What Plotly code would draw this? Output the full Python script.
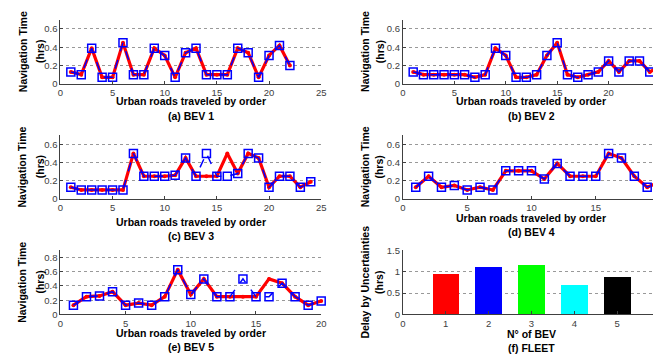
import plotly.graph_objects as go

W, H = 661, 356

# ---------------- data ----------------
bev1_x = list(range(1, 23))
bev1_plan = [0.13, 0.10, 0.39, 0.07, 0.07, 0.45, 0.10, 0.10, 0.39, 0.31, 0.07,
             0.34, 0.39, 0.10, 0.10, 0.10, 0.39, 0.34, 0.07, 0.31, 0.42, 0.20]
bev1_real = [0.13, 0.10, 0.39, 0.07, 0.07, 0.45, 0.10, 0.10, 0.39, 0.31, 0.07,
             0.34, 0.39, 0.10, 0.10, 0.10, 0.39, 0.34, 0.07, 0.31, 0.42, 0.20]

bev2_x = list(range(1, 26))
bev2_plan = [0.13, 0.10, 0.10, 0.10, 0.10, 0.10, 0.07, 0.10, 0.39, 0.31, 0.07, 0.07,
             0.10, 0.31, 0.45, 0.10, 0.07, 0.10, 0.13, 0.25, 0.13, 0.25, 0.25, 0.13, 0.19]
bev2_real = [0.13, 0.10, 0.10, 0.10, 0.10, 0.10, 0.07, 0.10, 0.39, 0.31, 0.07, 0.07,
             0.10, 0.31, 0.45, 0.10, 0.07, 0.10, 0.13, 0.25, 0.13, 0.25, 0.25, 0.13, 0.19]

bev3_x = list(range(1, 25))
bev3_plan = [0.13, 0.10, 0.10, 0.10, 0.10, 0.10, 0.50, 0.25, 0.25, 0.25, 0.26, 0.45,
             0.25, 0.25, 0.25, 0.50, 0.28, 0.50, 0.45, 0.13, 0.25, 0.25, 0.13, 0.19]
bev3_real = [0.13, 0.10, 0.10, 0.10, 0.10, 0.10, 0.50, 0.25, 0.25, 0.25, 0.26, 0.45,
             0.25, 0.50, 0.25, 0.25, 0.28, 0.50, 0.45, 0.13, 0.25, 0.25, 0.13, 0.19]

bev4_x = list(range(1, 21))
bev4_plan = [0.13, 0.25, 0.13, 0.15, 0.10, 0.13, 0.10, 0.31, 0.31, 0.31,
             0.22, 0.39, 0.25, 0.25, 0.25, 0.50, 0.45, 0.25, 0.13, 0.19]
bev4_real = [0.13, 0.25, 0.13, 0.15, 0.10, 0.13, 0.10, 0.31, 0.31, 0.31,
             0.22, 0.39, 0.25, 0.25, 0.25, 0.50, 0.45, 0.25, 0.13, 0.19]

bev5_x = list(range(1, 21))
bev5_plan = [0.13, 0.25, 0.26, 0.32, 0.13, 0.16, 0.13, 0.25, 0.63, 0.28,
             0.50, 0.25, 0.25, 0.25, 0.25, 0.50, 0.44, 0.25, 0.13, 0.19]
bev5_real = [0.13, 0.25, 0.26, 0.32, 0.13, 0.16, 0.13, 0.25, 0.63, 0.28,
             0.50, 0.25, 0.25, 0.50, 0.25, 0.25, 0.44, 0.25, 0.13, 0.19]

fleet_bev = [1, 2, 3, 4, 5]
fleet_delay = [0.94, 1.10, 1.15, 0.69, 0.87]
fleet_colors = ["#ff0000", "#0000ff", "#00ff00", "#00ffff", "#000000"]

x_label = "Urban roads traveled by order"
y_label = "Navigation Time"
f_x_label = "N° of BEV"
f_y_label = "Delay by Uncertainties"
captions = ["(a) BEV 1", "(b) BEV 2", "(c) BEV 3", "(d) BEV 4", "(e) BEV 5", "(f) FLEET"]

# ---------------- layout geometry (pixels) ----------------
def px(x):
    return x / W

def py(y):
    return 1 - y / H

cols = [(50, 314), (396.7, 657)]
rows = [(6, 72), (125, 191), (244, 310)]

fig = go.Figure()

panels = [
    (bev1_x, bev1_plan, bev1_real, 0, 0, [0, 25], [0, 5, 10, 15, 20, 25], [0, 0.7], [0, 0.2, 0.4, 0.6]),
    (bev2_x, bev2_plan, bev2_real, 0, 1, [0, 25], [0, 5, 10, 15, 20, 25], [0, 0.7], [0, 0.2, 0.4, 0.6]),
    (bev3_x, bev3_plan, bev3_real, 1, 0, [0, 25], [0, 5, 10, 15, 20, 25], [0, 0.7], [0, 0.2, 0.4, 0.6]),
    (bev4_x, bev4_plan, bev4_real, 1, 1, [0, 20], [0, 5, 10, 15, 20], [0, 0.7], [0, 0.2, 0.4, 0.6]),
    (bev5_x, bev5_plan, bev5_real, 2, 0, [0, 20], [0, 5, 10, 15, 20], [0, 0.9], [0, 0.2, 0.4, 0.6, 0.8]),
]

tick_font = dict(family="Liberation Sans, Arial, sans-serif", size=9.5, color="#404040")
lab_font = dict(family="Liberation Sans, Arial, sans-serif", size=10.5, color="#000000")

def axis_style(dom, rng, tv, grid):
    return dict(domain=dom, range=rng, tickvals=tv, showline=True, linecolor="#404040",
                linewidth=1, ticks="inside", ticklen=3, tickcolor="#404040",
                showgrid=grid, gridcolor="#999999", griddash="dot", gridwidth=1,
                zeroline=False, tickfont=tick_font, fixedrange=True,
                ticklabeloverflow="allow")

# caption block centre y (two lines)
cap_y = {(0, 0): 97.5, (0, 1): 97.5, (1, 0): 221.5, (1, 1): 217.5,
         (2, 0): 336, (2, 1): 337}
LINE_GAP = 14.5
ylab_x = {0: (11.5, 29.5), 1: (358.5, 373)}

annotations = []

def add_labels(r, c, xl, yl, cap):
    x0, x1 = cols[c]
    y0, y1 = rows[r]
    cx = (x0 + x1) / 2
    cy = (y0 + y1) / 2
    mid = cap_y[(r, c)]
    annotations.append(dict(text="<b>%s</b>" % xl, x=px(cx), y=py(mid - LINE_GAP / 2),
                            xref="paper", yref="paper", showarrow=False, borderpad=0,
                            xanchor="center", yanchor="middle", font=lab_font))
    annotations.append(dict(text="<b>%s</b>" % cap, x=px(cx), y=py(mid + LINE_GAP / 2),
                            xref="paper", yref="paper", showarrow=False, borderpad=0,
                            xanchor="center", yanchor="middle", font=lab_font))
    ax1, ax2 = ylab_x[c]
    annotations.append(dict(text="<b>%s</b>" % yl, x=px(ax1), y=py(cy), xref="paper", yref="paper",
                            showarrow=False, xanchor="center", yanchor="middle", textangle=-90,
                            borderpad=0, font=lab_font))
    annotations.append(dict(text="<b>(hrs)</b>", x=px(ax2), y=py(cy), xref="paper", yref="paper",
                            showarrow=False, xanchor="center", yanchor="middle", textangle=-90,
                            borderpad=0, font=lab_font))

layout_axes = {}
for i, (xs, plan, real, r, c, xr, xt, yr, yt) in enumerate(panels):
    n = i + 1
    xa = "x" if n == 1 else "x%d" % n
    ya = "y" if n == 1 else "y%d" % n
    fig.add_trace(go.Scatter(x=xs, y=plan, xaxis=xa, yaxis=ya, mode="lines+markers",
                             line=dict(color="#ff0000", width=3.2),
                             marker=dict(color="#ff0000", size=4, symbol="circle"),
                             cliponaxis=False, showlegend=False))
    fig.add_trace(go.Scatter(x=xs, y=real, xaxis=xa, yaxis=ya, mode="lines+markers",
                             line=dict(color="#0000ff", width=1.5, dash="dash"),
                             marker=dict(color="#0000ff", size=8, symbol="square-open",
                                         line=dict(width=1.5, color="#0000ff")),
                             cliponaxis=False, showlegend=False))
    x0, x1 = cols[c]
    y0, y1 = rows[r]
    key = "" if n == 1 else str(n)
    layout_axes["xaxis" + key] = axis_style([px(x0), px(x1)], xr, xt, False)
    layout_axes["xaxis" + key]["anchor"] = ya
    layout_axes["yaxis" + key] = axis_style([py(y1), py(y0)], yr, yt, True)
    layout_axes["yaxis" + key]["anchor"] = xa
    add_labels(r, c, x_label, y_label, captions[i])

# panel f : bars
fig.add_trace(go.Bar(x=fleet_bev, y=fleet_delay, xaxis="x6", yaxis="y6", width=0.62,
                     marker=dict(color=fleet_colors, line=dict(width=0)), showlegend=False))
x0, x1 = cols[1]
y0, y1 = rows[2]
layout_axes["xaxis6"] = axis_style([px(x0), px(x1)], [0, 6], [0, 1, 2, 3, 4, 5, 6], False)
layout_axes["xaxis6"]["anchor"] = "y6"
layout_axes["yaxis6"] = axis_style([py(y1), py(y0)], [0, 1.5], [0, 0.5, 1, 1.5], True)
layout_axes["yaxis6"]["anchor"] = "x6"
add_labels(2, 1, f_x_label, f_y_label, captions[5])

fig.update_layout(width=W, height=H, autosize=False,
                  margin=dict(l=0, r=0, t=0, b=0),
                  paper_bgcolor="white", plot_bgcolor="white",
                  annotations=annotations, bargap=0, **layout_axes)

fig.write_html("out.html")
